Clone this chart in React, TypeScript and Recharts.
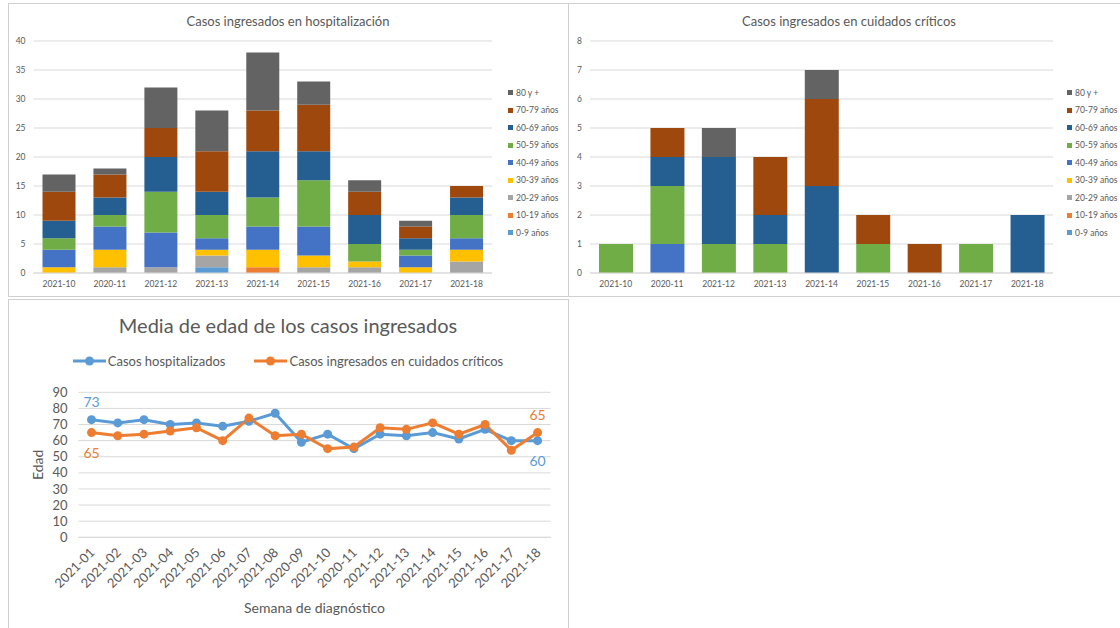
import React from 'react';
import {
  BarChart, Bar, LineChart, Line, XAxis, YAxis, CartesianGrid, Legend, Label, LabelList,
} from 'recharts';

// semanas de las gráficas de barras
const barWeeks = ['2021-10', '2020-11', '2021-12', '2021-13', '2021-14', '2021-15', '2021-16', '2021-17', '2021-18'];
const ageGroups = ['0-9 años', '10-19 años', '20-29 años', '30-39 años', '40-49 años', '50-59 años', '60-69 años', '70-79 años', '80 y +'];
const groupColors = ['#5B9BD5', '#ED7D31', '#A5A5A5', '#FFC000', '#4472C4', '#70AD47', '#255E91', '#9E480E', '#636363'];

// hospitalización, por grupo de edad
const hosp0_9 = [0, 0, 0, 1, 0, 0, 0, 0, 0];
const hosp10_19 = [0, 0, 0, 0, 1, 0, 0, 0, 0];
const hosp20_29 = [0, 1, 1, 2, 0, 1, 1, 0, 2];
const hosp30_39 = [1, 3, 0, 1, 3, 2, 1, 1, 2];
const hosp40_49 = [3, 4, 6, 2, 4, 5, 0, 2, 2];
const hosp50_59 = [2, 2, 7, 4, 5, 8, 3, 1, 4];
const hosp60_69 = [3, 3, 6, 4, 8, 5, 5, 2, 3];
const hosp70_79 = [5, 4, 5, 7, 7, 8, 4, 2, 2];
const hosp80 = [3, 1, 7, 7, 10, 4, 2, 1, 0];

// cuidados críticos, por grupo de edad
const crit0_9 = [0, 0, 0, 0, 0, 0, 0, 0, 0];
const crit10_19 = [0, 0, 0, 0, 0, 0, 0, 0, 0];
const crit20_29 = [0, 0, 0, 0, 0, 0, 0, 0, 0];
const crit30_39 = [0, 0, 0, 0, 0, 0, 0, 0, 0];
const crit40_49 = [0, 1, 0, 0, 0, 0, 0, 0, 0];
const crit50_59 = [1, 2, 1, 1, 0, 1, 0, 1, 0];
const crit60_69 = [0, 1, 3, 1, 3, 0, 0, 0, 2];
const crit70_79 = [0, 1, 0, 2, 3, 1, 1, 0, 0];
const crit80 = [0, 0, 1, 0, 1, 0, 0, 0, 0];

const hospTicks = [0, 5, 10, 15, 20, 25, 30, 35, 40];
const critTicks = [0, 1, 2, 3, 4, 5, 6, 7, 8];

// media de edad
const lineWeeks = ['2021-01', '2021-02', '2021-03', '2021-04', '2021-05', '2021-06', '2021-07', '2021-08', '2020-09',
  '2021-10', '2020-11', '2021-12', '2021-13', '2021-14', '2021-15', '2021-16', '2021-17', '2021-18'];
const ageHosp = [73, 71, 73, 70, 71, 69, 72, 77, 59, 64, 55, 64, 63, 65, 61, 67, 60, 60];
const ageCrit = [65, 63, 64, 66, 68, 60, 74, 63, 64, 55, 56, 68, 67, 71, 64, 70, 54, 65];
const ageTicks = [0, 10, 20, 30, 40, 50, 60, 70, 80, 90];

const FONT = 'Lato, "Liberation Sans", sans-serif';
const GRAY = '#595959';
const GRID = '#d9d9d9';

const hospSeries = [hosp0_9, hosp10_19, hosp20_29, hosp30_39, hosp40_49, hosp50_59, hosp60_69, hosp70_79, hosp80];
const critSeries = [crit0_9, crit10_19, crit20_29, crit30_39, crit40_49, crit50_59, crit60_69, crit70_79, crit80];

const toRows = (series: number[][]) =>
  barWeeks.map((week, i) => {
    const row: Record<string, string | number> = { week };
    ageGroups.forEach((g, k) => { row[g] = series[k][i]; });
    return row;
  });

const hospData = toRows(hospSeries);
const critData = toRows(critSeries);
const lineData = lineWeeks.map((week, i) => ({ week, hosp: ageHosp[i], crit: ageCrit[i] }));

const StackLegend = ({ payload }: any) => (
  <div style={{ fontSize: 8.5, color: GRAY, fontFamily: FONT, whiteSpace: 'nowrap' }}>
    {[...(payload || [])].reverse().map((p: any) => (
      <div key={p.value} style={{ display: 'flex', alignItems: 'center', height: 17.5 }}>
        <span style={{ width: 5, height: 5, background: p.color, marginRight: 3, display: 'inline-block' }} />
        <span>{p.value}</span>
      </div>
    ))}
  </div>
);

const LineLegend = ({ payload }: any) => (
  <div style={{ display: 'flex', justifyContent: 'center', gap: 29, fontSize: 13, color: GRAY, fontFamily: FONT }}>
    {(payload || []).map((p: any) => (
      <div key={p.value} style={{ display: 'flex', alignItems: 'center' }}>
        <svg width={33} height={10} style={{ marginRight: 2 }}>
          <line x1={0} y1={5} x2={33} y2={5} stroke={p.color} strokeWidth={3} />
          <circle cx={16.5} cy={5} r={4.5} fill={p.color} />
        </svg>
        <span>{p.value}</span>
      </div>
    ))}
  </div>
);

const AngledTick = ({ x, y, payload }: any) => (
  <g transform={`translate(${x + 4},${y + 8})`}>
    <text transform="rotate(-45)" textAnchor="end" fontSize={13} fill={GRAY} fontFamily={FONT}>
      {payload.value}
    </text>
  </g>
);

const edgeLabel = (color: string, firstAbove: boolean) => (props: any) => {
  const { x, y, index, value } = props;
  const last = lineWeeks.length - 1;
  if (index !== 0 && index !== last) return null;
  const above = index === 0 ? firstAbove : !firstAbove;
  return (
    <text x={x} y={above ? y - 18 : y + 20} fill={color} textAnchor="middle" dominantBaseline="central"
      fontSize={14} fontFamily={FONT}>
      {value}
    </text>
  );
};

const panel = (left: number, top: number, width: number, height: number): React.CSSProperties => ({
  position: 'absolute', left, top, width, height, border: '1px solid #d0d0d0', boxSizing: 'border-box',
});

const titleStyle = (top: number, size: number): React.CSSProperties => ({
  position: 'absolute', left: 0, top, width: 560, textAlign: 'center', fontSize: size,
  color: GRAY, fontFamily: FONT, lineHeight: '16px',
});

const smallTick = { fontSize: 8.5, fill: GRAY, fontFamily: FONT };

function StackedPanel({ data, ticks, max, title, barSize, width }: any) {
  return (
    <>
      <div style={titleStyle(10, 13)}>{title}</div>
      <BarChart width={width} height={293} data={data} margin={{ top: 38, right: width - 484, left: 0, bottom: 0 }}
        barSize={barSize}>
        <CartesianGrid vertical={false} stroke={GRID} />
        <XAxis dataKey="week" interval={0} tickLine={false} axisLine={{ stroke: GRID }} height={23} tick={smallTick} />
        <YAxis domain={[0, max]} ticks={ticks} interval={0} tickLine={false} axisLine={false} width={width === 560 ? 25.5 : 21}
          tick={smallTick} />
        <Legend layout="vertical" align="center" verticalAlign="middle" content={<StackLegend />}
          wrapperStyle={{ left: width === 560 ? 500 : 498, top: 81, width: 80 }} />
        {ageGroups.map((g, k) => (
          <Bar key={g} dataKey={g} name={g} stackId="a" fill={groupColors[k]} isAnimationActive={false} />
        ))}
      </BarChart>
    </>
  );
}

export default function App() {
  return (
    <div style={{ position: 'absolute', left: 0, top: 0, width: 1120, height: 628, background: '#fff', overflow: 'hidden', fontFamily: FONT }}>
      <div style={panel(8, 3, 561, 294)}>
        <div style={{ position: 'absolute', left: -1, top: -1 }}>
          <StackedPanel data={hospData} ticks={hospTicks} max={40} barSize={33} width={560}
            title="Casos ingresados en hospitalización" />
        </div>
      </div>
      <div style={panel(568, 3, 560, 294)}>
        <div style={{ position: 'absolute', left: 0, top: -1 }}>
          <StackedPanel data={critData} ticks={critTicks} max={8} barSize={34} width={551}
            title="Casos ingresados en cuidados críticos" />
        </div>
      </div>
      <div style={panel(8, 299, 561, 340)}>
        <div style={{ position: 'absolute', left: -1, top: -1 }}>
          <div style={{ ...titleStyle(14, 20), lineHeight: '24px' }}>Media de edad de los casos ingresados</div>
          <LineChart width={560} height={329} data={lineData} margin={{ top: 93.3, right: 17.4, left: 0, bottom: 0 }}>
            <CartesianGrid vertical={false} stroke={GRID} />
            <XAxis dataKey="week" interval={0} tickLine={false} axisLine={{ stroke: GRID }} height={90.7}
              padding={{ left: 13, right: 13 }} tick={<AngledTick />}>
              <Label value="Semana de diagnóstico" position="insideBottom" offset={15} fontSize={14} fill={GRAY} fontFamily={FONT} />
            </XAxis>
            <YAxis domain={[0, 90]} ticks={ageTicks} interval={0} tickLine={false} axisLine={false} width={70.5} tickMargin={5}
              tick={{ fontSize: 13, fill: GRAY, fontFamily: FONT }}>
              <Label value="Edad" angle={-90} position="center" dx={-5} fontSize={14} fill={GRAY} fontFamily={FONT} />
            </YAxis>
            <Legend layout="horizontal" align="center" verticalAlign="middle" content={<LineLegend />}
              wrapperStyle={{ left: 0, top: 54, width: 560 }} />
            <Line dataKey="hosp" name="Casos hospitalizados" stroke="#5B9BD5" strokeWidth={3}
              dot={{ r: 4.5, fill: '#5B9BD5', stroke: '#5B9BD5', strokeWidth: 0 }} isAnimationActive={false}>
              <LabelList dataKey="hosp" content={edgeLabel('#5B9BD5', true)} />
            </Line>
            <Line dataKey="crit" name="Casos ingresados en cuidados críticos" stroke="#ED7D31" strokeWidth={3}
              dot={{ r: 4.5, fill: '#ED7D31', stroke: '#ED7D31', strokeWidth: 0 }} isAnimationActive={false}>
              <LabelList dataKey="crit" content={edgeLabel('#ED7D31', false)} />
            </Line>
          </LineChart>
        </div>
      </div>
    </div>
  );
}
